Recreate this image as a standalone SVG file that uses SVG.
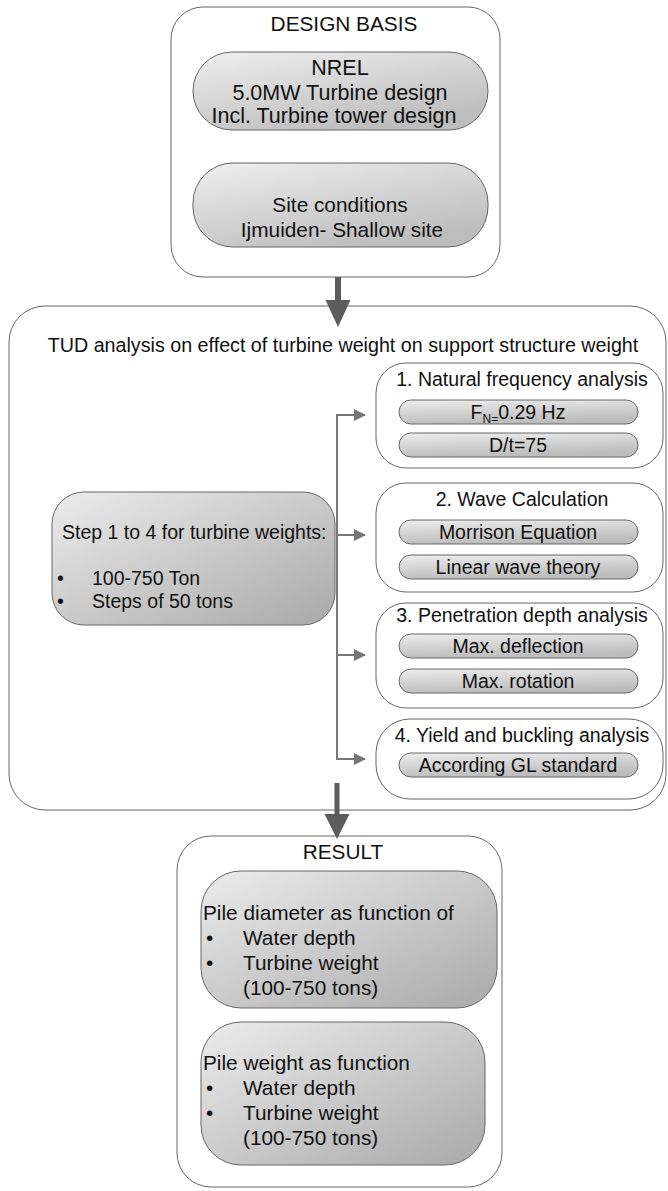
<svg xmlns="http://www.w3.org/2000/svg" width="668" height="1191" viewBox="0 0 668 1191">
<defs>
<linearGradient id="gBig" x1="0" y1="0" x2="0.6" y2="1"><stop offset="0" stop-color="#efefef"/><stop offset="1" stop-color="#bdbdbd"/></linearGradient>
<linearGradient id="gDark" x1="0" y1="0" x2="1" y2="1"><stop offset="0" stop-color="#ececec"/><stop offset="1" stop-color="#a9a9a9"/></linearGradient>
<linearGradient id="gSmall" x1="0" y1="0" x2="0.3" y2="1"><stop offset="0" stop-color="#ededed"/><stop offset="1" stop-color="#bcbcbc"/></linearGradient>
<marker id="ah" viewBox="0 0 12 12" refX="11" refY="6" markerWidth="12" markerHeight="12" markerUnits="userSpaceOnUse" orient="auto"><path d="M0,0 L12,6 L0,12 z" fill="#777"/></marker>
</defs>
<style>
text,tspan{font-family:"Liberation Sans",Arial,sans-serif;fill:#111;}
.box{fill:#fff;stroke:#666;stroke-width:1;}
.big{fill:url(#gBig);stroke:#666;stroke-width:1;}
.dark{fill:url(#gDark);stroke:#666;stroke-width:1;}
.sm{fill:url(#gSmall);stroke:#666;stroke-width:1;}
.t22{font-size:21.5px;}
.t21{font-size:20.8px;}
.t20{font-size:19.7px;}
.t19{font-size:19.5px;}
.mid{text-anchor:middle;}
.conn{fill:none;stroke:#777;stroke-width:2;}
.bigarrow{fill:#5c5c5c;}
</style>

<g id="design-basis">
<rect class="box" x="171" y="7" width="329" height="270" rx="32"/>
<text class="t21 mid" x="344" y="31">DESIGN BASIS</text>
</g>
<g id="nrel">
<rect class="big" x="193" y="52" width="295" height="78" rx="39"/>
<text class="t22 mid" x="340" y="75">NREL</text>
<text class="t22 mid" x="340" y="100">5.0MW Turbine design</text>
<text class="t22 mid" x="334" y="123">Incl. Turbine tower design</text>
</g>
<g id="site">
<rect class="big" x="193" y="163" width="295" height="84" rx="40"/>
<text class="t21 mid" x="340" y="212">Site conditions</text>
<text class="t21 mid" x="342" y="237">Ijmuiden- Shallow site</text>
</g>

<g id="tud">
<rect class="box" x="9" y="306" width="657" height="504" rx="36"/>
<text class="t20 mid" x="343" y="352">TUD analysis on effect of turbine weight on support structure weight</text>
</g>

<g id="steps">
<rect class="dark" x="52" y="492" width="283" height="133" rx="32"/>
<text class="t19" x="62" y="539">Step 1 to 4 for turbine weights:</text>
<text class="t19" x="57" y="585">•</text>
<text class="t19" x="92" y="585">100-750 Ton</text>
<text class="t19" x="57" y="608">•</text>
<text class="t19" x="92" y="608">Steps of 50 tons</text>
</g>

<g id="step1">
<rect class="box" x="376" y="363" width="287" height="105" rx="30"/>
<text class="t19 mid" x="522" y="386">1. Natural frequency analysis</text>
<rect class="sm" x="399" y="400" width="239" height="24" rx="12"/>
<text class="t19 mid" x="518" y="419">F<tspan font-size="12px" dy="4">N=</tspan><tspan dy="-4">0.29 Hz</tspan></text>
<rect class="sm" x="399" y="433" width="239" height="24" rx="12"/>
<text class="t19 mid" x="518" y="452">D/t=75</text>
</g>

<g id="step2">
<rect class="box" x="376" y="483" width="287" height="109" rx="30"/>
<text class="t19 mid" x="522" y="506">2. Wave Calculation</text>
<rect class="sm" x="399" y="520" width="239" height="24" rx="12"/>
<text class="t19 mid" x="518" y="539">Morrison Equation</text>
<rect class="sm" x="399" y="555" width="239" height="24" rx="12"/>
<text class="t19 mid" x="518" y="574">Linear wave theory</text>
</g>

<g id="step3">
<rect class="box" x="376" y="603" width="287" height="105" rx="30"/>
<text class="t19 mid" x="522" y="622">3. Penetration depth analysis</text>
<rect class="sm" x="399" y="634" width="239" height="24" rx="12"/>
<text class="t19 mid" x="518" y="653">Max. deflection</text>
<rect class="sm" x="399" y="669" width="239" height="24" rx="12"/>
<text class="t19 mid" x="518" y="688">Max. rotation</text>
</g>

<g id="step4">
<rect class="box" x="376" y="719" width="287" height="80" rx="34"/>
<text class="t19 mid" x="522" y="742">4. Yield and buckling analysis</text>
<rect class="sm" x="399" y="753" width="239" height="24" rx="12"/>
<text class="t19 mid" x="518" y="772">According GL standard</text>
</g>

<g id="result">
<rect class="box" x="177" y="836" width="325" height="351" rx="34"/>
<text class="t21 mid" x="343" y="859">RESULT</text>
</g>
<g id="pile-diameter">
<rect class="dark" x="201" y="871" width="296" height="137" rx="40"/>
<text class="t21" x="203" y="920">Pile diameter as function of</text>
<text class="t21" x="206" y="945">•</text>
<text class="t21" x="243" y="945">Water depth</text>
<text class="t21" x="206" y="970">•</text>
<text class="t21" x="243" y="970">Turbine weight</text>
<text class="t21" x="243" y="995">(100-750 tons)</text>
</g>
<g id="pile-weight">
<rect class="dark" x="201" y="1022" width="284" height="143" rx="40"/>
<text class="t21" x="203" y="1070">Pile weight as function</text>
<text class="t21" x="206" y="1095">•</text>
<text class="t21" x="243" y="1095">Water depth</text>
<text class="t21" x="206" y="1120">•</text>
<text class="t21" x="243" y="1120">Turbine weight</text>
<text class="t21" x="243" y="1145">(100-750 tons)</text>
</g>

<g id="connectors">
<rect class="bigarrow" x="335" y="277" width="6" height="24"/>
<polygon class="bigarrow" points="325.5,300 350.5,300 338,327"/>
<rect class="bigarrow" x="334.5" y="783" width="5" height="32"/>
<polygon class="bigarrow" points="324.5,814 349.5,814 337,839"/>
<path class="conn" d="M337,759 V415 H365" marker-end="url(#ah)"/>
<path class="conn" d="M337,535 H365" marker-end="url(#ah)"/>
<path class="conn" d="M337,655 H365" marker-end="url(#ah)"/>
<path class="conn" d="M336,759 H365" marker-end="url(#ah)"/>
</g>
</svg>
